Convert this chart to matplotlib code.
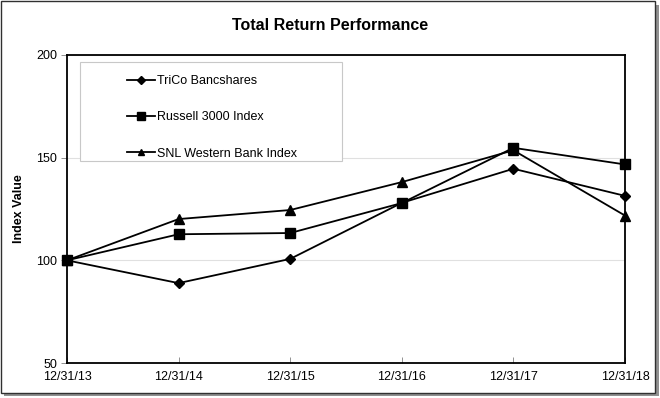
import numpy as np
import matplotlib.pyplot as plt
from matplotlib.patches import Rectangle

plt.rcParams['font.family'] = ['Liberation Sans', 'DejaVu Sans']

years = ['12/31/13', '12/31/14', '12/31/15', '12/31/16', '12/31/17', '12/31/18']
trico = [100, 88.9, 100.7, 128.0, 144.6, 131.4]
russell = [100, 112.7, 113.3, 127.9, 154.8, 146.7]
snl = [100, 120.1, 124.5, 138.1, 153.6, 121.8]

fig = plt.figure(figsize=(6.6, 3.98), dpi=100)

# outer frame with drop shadow
fig.patches.append(Rectangle((4 / 660, 2 / 398), 655 / 660, 391 / 398, transform=fig.transFigure,
                             facecolor='#909090', edgecolor='none', zorder=-2))
fig.patches.append(Rectangle((1 / 660, 5 / 398), 654 / 660, 392 / 398, transform=fig.transFigure,
                             facecolor='white', edgecolor='#303030', linewidth=1.0, zorder=-1))

ax = fig.add_axes([67 / 660, 35 / 398, 558 / 660, 308 / 398])
x = np.arange(len(years))

ax.plot(x, trico, color='black', lw=1.3, marker='D', ms=5, label='TriCo Bancshares',
        zorder=3, clip_on=False)
ax.plot(x, russell, color='black', lw=1.3, marker='s', ms=7, label='Russell 3000 Index',
        zorder=3, clip_on=False)
ax.plot(x, snl, color='black', lw=1.3, marker='^', ms=6.5, label='SNL Western Bank Index',
        zorder=3, clip_on=False)

ax.set_xlim(0, len(years) - 1)
ax.set_ylim(50, 200)
ax.set_yticks([50, 100, 150, 200])
ax.set_xticks(x)
ax.set_xticklabels(years)
ax.yaxis.grid(True, color='#e0e0e0', lw=0.8)
ax.set_axisbelow(True)
for s in ax.spines.values():
    s.set_color('black')
    s.set_linewidth(1.3)
ax.tick_params(axis='both', labelsize=9, length=4, width=0.6, color='#808080')
ax.tick_params(axis='y', pad=3)
ax.tick_params(axis='x', direction='in', pad=6)

ax.set_ylabel('Index Value', fontsize=9, fontweight='bold', labelpad=8)
fig.text(0.5, 0.935, 'Total Return Performance', ha='center', va='center',
         fontsize=11.5, fontweight='bold')

# legend box drawn by hand so its size matches the original
ax.add_patch(Rectangle((0.0233, 0.656), 0.47, 0.321, transform=ax.transAxes,
                       facecolor='white', edgecolor='#c8c8c8', lw=0.8, zorder=4))
leg = ax.legend(loc='upper left', bbox_to_anchor=(0.108, 0.935), fontsize=9, frameon=False,
                handlelength=2.2, labelspacing=1.95, borderpad=0, handletextpad=0.2,
                borderaxespad=0, markerscale=0.75)
leg.set_zorder(5)

fig.savefig('out.png', dpi=100)
